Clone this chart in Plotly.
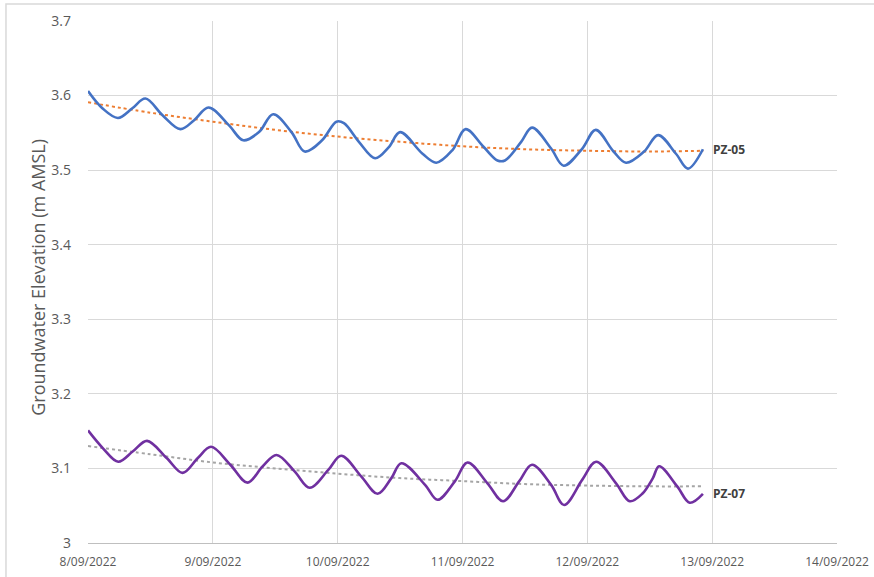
import pandas as pd
import plotly.graph_objects as go

START = pd.Timestamp("2022-09-08")

# PZ-05 (time in days since 8/09/2022 00:00, elevation m AMSL)
pz05_days = [0.00, 0.115, 0.24, 0.355, 0.46, 0.595, 0.74, 0.85, 0.965, 1.13, 1.244, 1.37, 1.483,
             1.63, 1.736, 1.875, 1.99, 2.05, 2.17, 2.30, 2.41, 2.50, 2.68, 2.79, 2.92, 3.025,
             3.17, 3.28, 3.34, 3.47, 3.557, 3.71, 3.81, 3.96, 4.067, 4.21, 4.31, 4.455, 4.567,
             4.71, 4.806, 4.926]
pz05_vals = [3.606, 3.583, 3.570, 3.583, 3.596, 3.574, 3.555, 3.567, 3.584, 3.560, 3.540, 3.551, 3.575,
             3.551, 3.525, 3.540, 3.565, 3.563, 3.538, 3.516, 3.531, 3.551, 3.522, 3.510, 3.527, 3.555,
             3.531, 3.513, 3.513, 3.538, 3.557, 3.529, 3.506, 3.529, 3.554, 3.525, 3.510, 3.525, 3.547,
             3.522, 3.502, 3.528]

# PZ-07
pz07_days = [0.00, 0.12, 0.242, 0.36, 0.473, 0.63, 0.758, 0.88, 0.986, 1.14, 1.278, 1.40, 1.51,
             1.655, 1.776, 1.925, 2.028, 2.19, 2.32, 2.43, 2.51, 2.70, 2.80, 2.94, 3.04, 3.20,
             3.325, 3.455, 3.557, 3.71, 3.814, 3.96, 4.07, 4.23, 4.34, 4.44, 4.525, 4.575, 4.72,
             4.82, 4.926]
pz07_vals = [3.151, 3.127, 3.109, 3.123, 3.137, 3.114, 3.094, 3.114, 3.129, 3.105, 3.081, 3.103, 3.118,
             3.096, 3.074, 3.098, 3.117, 3.089, 3.066, 3.087, 3.107, 3.078, 3.058, 3.083, 3.108, 3.080,
             3.056, 3.083, 3.105, 3.078, 3.051, 3.085, 3.109, 3.080, 3.056, 3.066, 3.087, 3.103, 3.076,
             3.054, 3.066]

# Trendlines (polynomial)
trend_days = [0.0, 0.5, 1.0, 1.5, 2.0, 2.5, 3.0, 3.5, 4.0, 4.5, 4.93]
trend05_vals = [3.591, 3.577, 3.565, 3.554, 3.545, 3.538, 3.532, 3.528, 3.526, 3.525, 3.526]
trend07_vals = [3.130, 3.119, 3.108, 3.100, 3.093, 3.087, 3.083, 3.079, 3.077, 3.076, 3.076]

# Axis ticks
x_tick_days = [0, 1, 2, 3, 4, 5, 6]
x_tick_labels = ["8/09/2022", "9/09/2022", "10/09/2022", "11/09/2022",
                 "12/09/2022", "13/09/2022", "14/09/2022"]
y_tick_vals = [3.0, 3.1, 3.2, 3.3, 3.4, 3.5, 3.6, 3.7]
y_tick_labels = ["3", "3.1", "3.2", "3.3", "3.4", "3.5", "3.6", "3.7"]
y_title = "Groundwater Elevation (m AMSL)"


def to_dt(days):
    return [START + pd.Timedelta(days=d) for d in days]


FONT = "Open Sans, sans-serif"

fig = go.Figure()
fig.add_trace(go.Scatter(x=to_dt(trend_days), y=trend05_vals, mode="lines",
                         line=dict(color="#ED7D31", width=2, dash="dot", shape="spline"),
                         showlegend=False, hoverinfo="skip"))
fig.add_trace(go.Scatter(x=to_dt(trend_days), y=trend07_vals, mode="lines",
                         line=dict(color="#A5A5A5", width=2, dash="dot", shape="spline"),
                         showlegend=False, hoverinfo="skip"))
fig.add_trace(go.Scatter(x=to_dt(pz05_days), y=pz05_vals, mode="lines", name="PZ-05",
                         line=dict(color="#4472C4", width=2.6, shape="spline", smoothing=1.0),
                         showlegend=False))
fig.add_trace(go.Scatter(x=to_dt(pz07_days), y=pz07_vals, mode="lines", name="PZ-07",
                         line=dict(color="#7030A0", width=2.6, shape="spline", smoothing=1.0),
                         showlegend=False))

# End labels
for name, days, vals in [("PZ-05", pz05_days, pz05_vals), ("PZ-07", pz07_days, pz07_vals)]:
    fig.add_annotation(x=to_dt([days[-1]])[0], y=vals[-1], text="<b>%s</b>" % name,
                       showarrow=False, xanchor="left", yanchor="middle", xshift=8,
                       font=dict(family=FONT, size=12, color="#404040"))

# Y-axis title
fig.add_annotation(xref="paper", yref="paper", x=-0.0668, y=0.51, text=y_title,
                   textangle=-90, showarrow=False, xanchor="center", yanchor="middle",
                   font=dict(family=FONT, size=18, color="#595959"))

fig.update_xaxes(type="date", range=[to_dt([0])[0], to_dt([6])[0]],
                 tickvals=to_dt(x_tick_days), ticktext=x_tick_labels,
                 showgrid=True, gridcolor="#D9D9D9", gridwidth=1,
                 showline=True, linecolor="#BFBFBF", linewidth=1, automargin=False,
                 ticks="", ticklabelstandoff=8,
                 tickfont=dict(family=FONT, size=12, color="#595959"))
fig.update_yaxes(range=[3.0, 3.7], tickvals=y_tick_vals, ticktext=y_tick_labels,
                 showgrid=True, gridcolor="#D9D9D9", gridwidth=1, zeroline=False,
                 showline=False, ticks="", ticklabelstandoff=16, automargin=False,
                 tickfont=dict(family=FONT, size=14, color="#595959"))

fig.add_shape(type="rect", xref="paper", yref="paper", x0=-0.1095, x1=1.06, y0=-0.1, y1=1.0326,
              line=dict(color="#D9D9D9", width=1.5), fillcolor="rgba(0,0,0,0)", layer="below")

fig.update_layout(width=874, height=577, paper_bgcolor="white", plot_bgcolor="white",
                  margin=dict(l=88, r=37, t=21, b=34, autoexpand=False), showlegend=False)

fig.write_html("out.html", config={"displayModeBar": False},
               post_script="document.body.style.margin='0';document.body.style.overflow='hidden';")
